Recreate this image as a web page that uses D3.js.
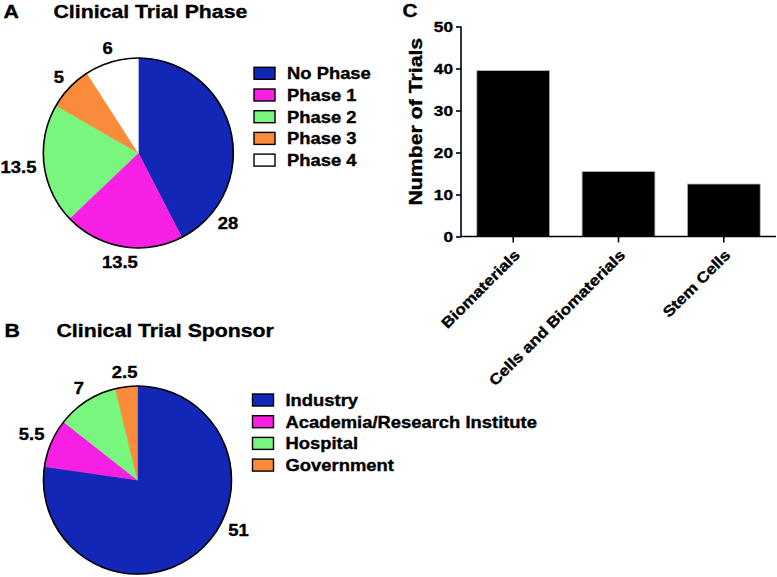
<!DOCTYPE html>
<html>
<head>
<meta charset="utf-8">
<script src="https://cdn.jsdelivr.net/npm/d3@7"></script>
<style>
  html, body { margin: 0; padding: 0; background: #fff; }
  svg { display: block; }
  text { font-family: "Liberation Sans", Arial, Helvetica, sans-serif; font-weight: bold; fill: #000; stroke: #000; stroke-width: 0.35px; }
</style>
</head>
<body>
<svg id="chart" width="777" height="577"></svg>
<script>
// ---------------- DATA ----------------
const phaseLabels = ["No Phase", "Phase 1", "Phase 2", "Phase 3", "Phase 4"];
const phaseValues = [28, 13.5, 13.5, 5, 6];
const phaseColors = ["#1327b6", "#f820e4", "#78f67e", "#f98b3b", "#ffffff"];

const sponsorLabels = ["Industry", "Academia/Research Institute", "Hospital", "Government"];
const sponsorValues = [51, 5.5, 7, 2.5];
const sponsorColors = ["#1327b6", "#f820e4", "#78f67e", "#f98b3b"];

const therapyCategories = ["Biomaterials", "Cells and Biomaterials", "Stem Cells"];
const therapyTrials = [39.5, 15.5, 12.5];
const yTickValues = [0, 10, 20, 30, 40, 50];

// ---------------- DRAWING ----------------
const svg = d3.select("#chart");
const SX = 1.15; // horizontal glyph stretch of the original figure

function addText(parent, str, x, y, size, opts = {}) {
  const t = parent.append("text")
    .attr("transform", `translate(${x},${y})` + (opts.rotate ? ` rotate(${opts.rotate})` : "") + ` scale(${SX},1)`)
    .attr("font-size", size)
    .attr("text-anchor", opts.anchor || "start")
    .text(str);
  return t;
}

function drawPie(cfg) {
  const { cx, cy, r, labels, values, colors, title, letter, titleY, letterX, titleX,
          legendX, legendY0, legendStep, firstLabelAngle } = cfg;
  const g = svg.append("g");
  addText(g, letter, letterX, titleY, 18.5);
  addText(g, title, titleX, titleY, 18.5);

  const pie = d3.pie().sort(null).value(d => d)(values);
  const arc = d3.arc().innerRadius(0).outerRadius(r);
  const pg = g.append("g").attr("transform", `translate(${cx},${cy})`);
  pg.selectAll("path.slice").data(pie).join("path")
    .attr("class", "slice")
    .attr("d", arc)
    .attr("fill", (d, i) => colors[i])
    .attr("stroke", (d, i) => colors[i])
    .attr("stroke-width", 0.5);
  pg.append("circle").attr("r", r).attr("fill", "none").attr("stroke", "#000").attr("stroke-width", 1.6);

  // value labels
  const fs = 16, capH = fs * 0.72, gap = 7;
  pie.forEach((d, i) => {
    const a = (i === 0 && firstLabelAngle != null) ? firstLabelAngle * Math.PI / 180 : (d.startAngle + d.endAngle) / 2;
    const t = addText(g, String(values[i]), 0, 0, fs, { anchor: "middle" });
    const w = t.node().getBBox().width * SX;
    const dist = r + gap + Math.abs(Math.sin(a)) * w / 2 + Math.abs(Math.cos(a)) * capH / 2;
    const x = cx + dist * Math.sin(a);
    const y = cy - dist * Math.cos(a) + capH / 2;
    t.attr("transform", `translate(${x},${y}) scale(${SX},1)`);
  });

  // legend
  const lg = g.append("g");
  labels.forEach((lab, i) => {
    const yc = legendY0 + i * legendStep;
    lg.append("rect").attr("x", legendX).attr("y", yc - 6).attr("width", 21).attr("height", 12)
      .attr("fill", colors[i]).attr("stroke", "#000").attr("stroke-width", 1.4);
    addText(lg, lab, legendX + 33, yc + 6, 16);
  });
}

drawPie({
  cx: 138.3, cy: 153, r: 95,
  labels: phaseLabels, values: phaseValues, colors: phaseColors,
  title: "Clinical Trial Phase", letter: "A", titleY: 18.3, letterX: 3.5, titleX: 53.5,
  legendX: 254, legendY0: 73.3, legendStep: 21.7, firstLabelAngle: 128
});

drawPie({
  cx: 137.5, cy: 480, r: 94,
  labels: sponsorLabels, values: sponsorValues, colors: sponsorColors,
  title: "Clinical Trial Sponsor", letter: "B", titleY: 336.7, letterX: 4.5, titleX: 56.5,
  legendX: 252.5, legendY0: 400, legendStep: 21.7, firstLabelAngle: 116.6
});

// ---------------- BAR CHART C ----------------
const bx0 = 461, bx1 = 776, by0 = 236.5, by1 = 26.5;
const bg = svg.append("g");
addText(bg, "C", 402.5, 16.7, 18);

const x = d3.scaleBand().domain(therapyCategories).range([bx0, bx1]).paddingInner(0.308).paddingOuter(0.15);
const y = d3.scaleLinear().domain([0, 50]).range([by0, by1]);

bg.selectAll("rect.bar").data(therapyTrials).join("rect")
  .attr("class", "bar")
  .attr("x", (d, i) => x(therapyCategories[i]))
  .attr("width", x.bandwidth())
  .attr("y", d => y(d))
  .attr("height", d => by0 - y(d))
  .attr("fill", "#000")
  .attr("stroke", "#bbb")
  .attr("stroke-width", 0.8);

// y axis
const yAxis = d3.axisLeft(y).tickValues(yTickValues).tickSize(5).tickPadding(3).tickFormat(d3.format("d"));
const yg = bg.append("g").attr("transform", `translate(${bx0},0)`).call(yAxis);
yg.select(".domain").attr("stroke", "#000").attr("stroke-width", 1.6).attr("d", `M0,${by1}V${by0}`);
yg.selectAll(".tick line").attr("stroke", "#000").attr("stroke-width", 1.6);
yg.selectAll(".tick text").remove();
yTickValues.forEach(v => {
  addText(yg, String(v), -8, y(v) + 5.3, 15, { anchor: "end" });
});

// x axis
const xAxis = d3.axisBottom(x).tickSize(6).tickFormat("");
const xg = bg.append("g").attr("transform", `translate(0,${by0})`).call(xAxis);
xg.select(".domain").attr("stroke", "#000").attr("stroke-width", 1.6).attr("d", `M${bx0},0H${bx1}`);
xg.selectAll(".tick line").attr("stroke", "#000").attr("stroke-width", 1.6);
therapyCategories.forEach(c => {
  const tx = x(c) + x.bandwidth() / 2;
  addText(xg, c, tx + 7.5, 19.5, 15, { anchor: "end", rotate: -45 });
});

// y label
addText(bg, "Number of Trials", 421.5, 121.7, 18.5, { anchor: "middle", rotate: -90 });
</script>
</body>
</html>
